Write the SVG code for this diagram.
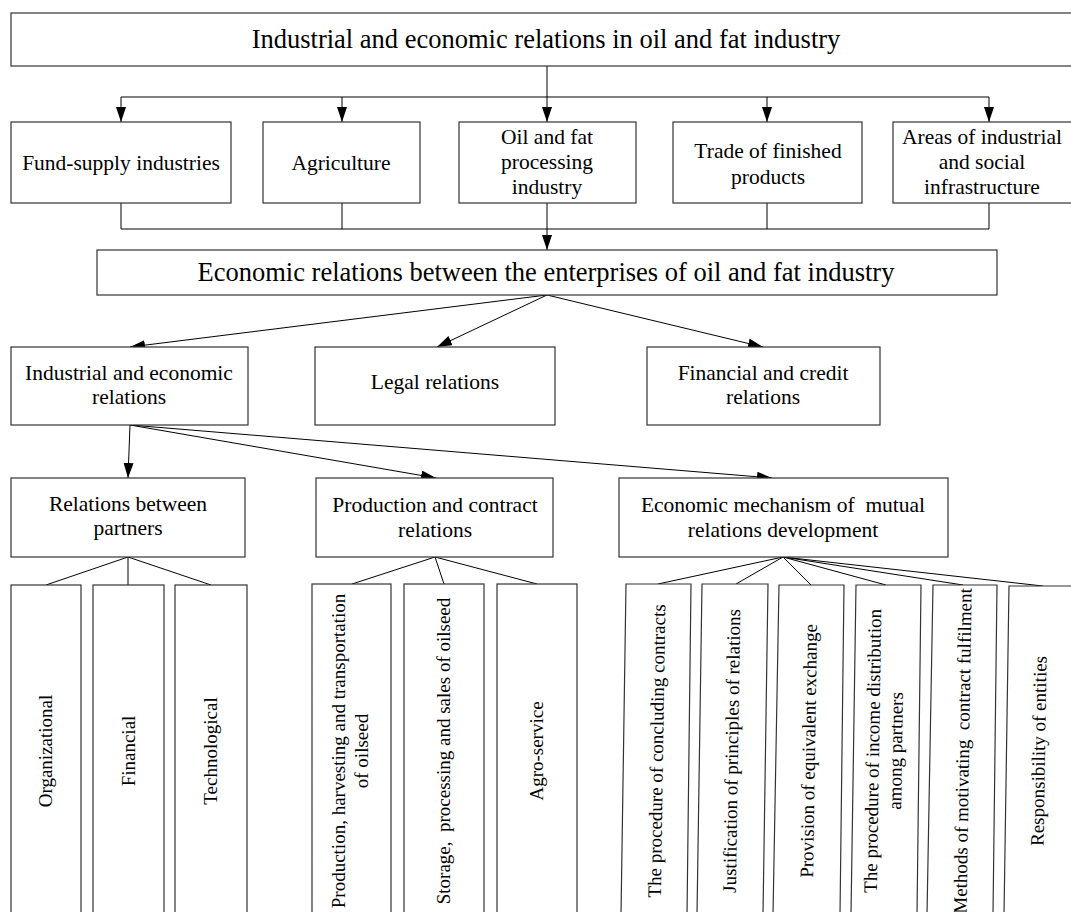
<svg xmlns="http://www.w3.org/2000/svg" width="1071" height="912" viewBox="0 0 1071 912">
<defs>
<marker id="ah" markerUnits="userSpaceOnUse" markerWidth="16" markerHeight="11" refX="15" refY="5" orient="auto"><path d="M0,0 L15,5 L0,10 z" fill="#000"/></marker>
<style>
.box{fill:#fff;stroke:#333;stroke-width:1.2}
.ln{fill:none;stroke:#000;stroke-width:1}
.ar{fill:none;stroke:#000;stroke-width:1;marker-end:url(#ah)}
text{font-family:"Liberation Serif","Times New Roman",serif;fill:#000;text-anchor:middle}
.t1{font-size:26.5px}
.t2{font-size:21.5px}
.tv{font-size:19px}
</style>
</defs>
<rect width="1071" height="912" fill="#fff"/>
<g id="connectors">
<polyline class="ln" points="547,66 547,97"/>
<polyline class="ln" points="121,97 989,97"/>
<line class="ar" x1="121" y1="97" x2="121" y2="122"/>
<line class="ar" x1="342" y1="97" x2="342" y2="122"/>
<line class="ar" x1="547" y1="97" x2="547" y2="122"/>
<line class="ar" x1="767" y1="97" x2="767" y2="122"/>
<line class="ar" x1="989" y1="97" x2="989" y2="122"/>
<polyline class="ln" points="121,203 121,229 989,229 989,203"/>
<line class="ln" x1="342" y1="203" x2="342" y2="229"/>
<line class="ln" x1="767" y1="203" x2="767" y2="229"/>
<line class="ar" x1="547" y1="203" x2="547" y2="250"/>
<line class="ar" x1="547" y1="295" x2="130" y2="347"/>
<line class="ar" x1="547" y1="295" x2="437" y2="347"/>
<line class="ar" x1="547" y1="295" x2="763" y2="347"/>
<line class="ar" x1="130" y1="425" x2="128" y2="478"/>
<line class="ar" x1="130" y1="425" x2="436" y2="478"/>
<line class="ar" x1="130" y1="425" x2="772" y2="478"/>
<line class="ln" x1="128" y1="557" x2="46" y2="585"/>
<line class="ln" x1="128" y1="557" x2="128" y2="585"/>
<line class="ln" x1="128" y1="557" x2="211" y2="585"/>
<line class="ln" x1="435" y1="557" x2="352" y2="584"/>
<line class="ln" x1="435" y1="557" x2="444" y2="584"/>
<line class="ln" x1="435" y1="557" x2="537" y2="584"/>
<line class="ln" x1="783" y1="557" x2="658" y2="584"/>
<line class="ln" x1="783" y1="557" x2="736" y2="584"/>
<line class="ln" x1="783" y1="557" x2="811" y2="585"/>
<line class="ln" x1="783" y1="557" x2="886" y2="585"/>
<line class="ln" x1="783" y1="557" x2="963" y2="585"/>
<line class="ln" x1="783" y1="557" x2="1043" y2="586"/>
</g>
<g id="n-top"><rect class="box" x="11" y="13" width="1070" height="53"/><text class="t1" x="546" y="48">Industrial and economic relations in oil and fat industry</text></g>
<g id="n-fund"><rect class="box" x="11" y="122" width="220" height="81"/><text class="t2" x="121" y="170">Fund-supply industries</text></g>
<g id="n-agri"><rect class="box" x="263" y="122" width="157" height="81"/><text class="t2" x="341" y="170">Agriculture</text></g>
<g id="n-oil"><rect class="box" x="459" y="122" width="177" height="81"/><text class="t2" x="547" y="144">Oil and fat</text><text class="t2" x="547" y="169">processing</text><text class="t2" x="547" y="194">industry</text></g>
<g id="n-trade"><rect class="box" x="673" y="122" width="189" height="81"/><text class="t2" x="768" y="158">Trade of finished</text><text class="t2" x="768" y="184">products</text></g>
<g id="n-areas"><rect class="box" x="893" y="122" width="190" height="81"/><text class="t2" x="982" y="144">Areas of industrial</text><text class="t2" x="982" y="169">and social</text><text class="t2" x="982" y="194">infrastructure</text></g>
<g id="n-econ"><rect class="box" x="97" y="250" width="900" height="45"/><text class="t1" x="546" y="281">Economic relations between the enterprises of oil and fat industry</text></g>
<g id="n-ind"><rect class="box" x="11" y="347" width="237" height="78"/><text class="t2" x="129" y="380">Industrial and economic</text><text class="t2" x="129" y="404">relations</text></g>
<g id="n-legal"><rect class="box" x="315" y="347" width="240" height="78"/><text class="t2" x="435" y="389">Legal relations</text></g>
<g id="n-fin"><rect class="box" x="647" y="347" width="233" height="78"/><text class="t2" x="763" y="380">Financial and credit</text><text class="t2" x="763" y="404">relations</text></g>
<g id="n-rel"><rect class="box" x="11" y="478" width="234" height="79"/><text class="t2" x="128" y="511">Relations between</text><text class="t2" x="128" y="535">partners</text></g>
<g id="n-prod"><rect class="box" x="316" y="478" width="237" height="79"/><text class="t2" x="435" y="512">Production and contract</text><text class="t2" x="435" y="537">relations</text></g>
<g id="n-mech"><rect class="box" x="619" y="478" width="329" height="79"/><text class="t2" x="783" y="512" xml:space="preserve">Economic mechanism of  mutual</text><text class="t2" x="783" y="537">relations development</text></g>
<g id="n-org"><rect class="box" x="11" y="585" width="70" height="330"/><text class="tv" transform="translate(52,751) rotate(-90)">Organizational</text></g>
<g id="n-finl"><rect class="box" x="93" y="585" width="71" height="330"/><text class="tv" transform="translate(135,751) rotate(-90)">Financial</text></g>
<g id="n-tech"><rect class="box" x="175" y="585" width="72" height="330"/><text class="tv" transform="translate(217,751) rotate(-90)">Technological</text></g>
<g id="n-phto"><rect class="box" x="312" y="584" width="79" height="331"/><text class="tv" transform="translate(345,751) rotate(-90)">Production, harvesting and transportation</text><text class="tv" transform="translate(368,751) rotate(-90)">of oilseed</text></g>
<g id="n-sps"><rect class="box" x="404" y="584" width="80" height="331"/><text class="tv" transform="translate(450,751) rotate(-90)" xml:space="preserve">Storage,  processing and sales of oilseed</text></g>
<g id="n-agro"><rect class="box" x="497" y="584" width="80" height="331"/><text class="tv" transform="translate(543,751) rotate(-90)">Agro-service</text></g>
<g id="n-conc"><polygon class="box" points="626,584 691,584 687,915 621,915"/><text class="tv" transform="translate(663,751) rotate(-89.1)">The procedure of concluding contracts</text></g>
<g id="n-just"><polygon class="box" points="702,584 768,584 763,915 697,915"/><text class="tv" transform="translate(738,751) rotate(-89.1)">Justification of principles of relations</text></g>
<g id="n-prov"><polygon class="box" points="779,585 844,585 840,915 773,915"/><text class="tv" transform="translate(815,751) rotate(-89.1)">Provision of equivalent exchange</text></g>
<g id="n-inc"><polygon class="box" points="856,585 921,585 917,915 851,915"/><text class="tv" transform="translate(879,751) rotate(-89.1)">The procedure of income distribution</text><text class="tv" transform="translate(902,751) rotate(-89.1)">among partners</text></g>
<g id="n-meth"><polygon class="box" points="933,585 997,585 993,915 927,915"/><text class="tv" transform="translate(969,751) rotate(-89.1)" xml:space="preserve">Methods of motivating  contract fulfilment</text></g>
<g id="n-resp"><polygon class="box" points="1009,586 1080,586 1080,915 1004,915"/><text class="tv" transform="translate(1045,751) rotate(-89.1)">Responsibility of entities</text></g>
</svg>
